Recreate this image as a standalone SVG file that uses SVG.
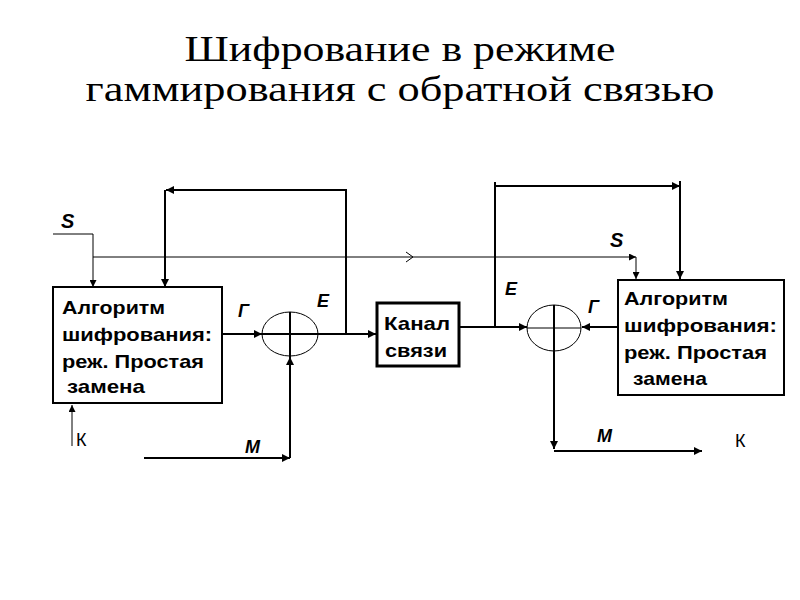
<svg xmlns="http://www.w3.org/2000/svg" width="800" height="600" viewBox="0 0 800 600">
<style>
.title{font-family:"Liberation Serif","Times New Roman",serif;font-size:36px;fill:#000;text-anchor:middle}
.box{fill:#fff;stroke:#000;stroke-width:2}
.box3{fill:#fff;stroke:#000;stroke-width:3}
.bt{font-family:"Liberation Sans",Arial,sans-serif;font-size:19px;font-weight:bold;fill:#000}
.lab{font-family:"Liberation Sans",Arial,sans-serif;font-size:18px;font-weight:bold;font-style:italic;fill:#000}
.s{font-family:"Liberation Sans",Arial,sans-serif;font-size:20px;font-weight:bold;font-style:italic;fill:#000}
.reg{font-family:"Liberation Sans",Arial,sans-serif;font-size:18px;fill:#000}
.thick{fill:none;stroke:#000;stroke-width:2}
.thin{fill:none;stroke:#000;stroke-width:1}
.circ{fill:none;stroke:#000;stroke-width:1}
</style>
<defs>
<marker id="ah" markerUnits="userSpaceOnUse" markerWidth="9" markerHeight="8" refX="8" refY="4" orient="auto">
<path d="M0,0 L8,4 L0,8 Z" fill="#000"/>
</marker>
<marker id="ahs" markerUnits="userSpaceOnUse" markerWidth="8" markerHeight="7" refX="7" refY="3.5" orient="auto">
<path d="M0,0 L7,3.5 L0,7 Z" fill="#000"/>
</marker>
</defs>

<text class="title" x="400" y="61" textLength="431" lengthAdjust="spacingAndGlyphs">Шифрование в режиме</text>
<text class="title" x="400" y="101" textLength="629" lengthAdjust="spacingAndGlyphs">гаммирования с обратной связью</text>

<g id="connectors">
<path class="thick" d="M346,334 V190 H166" marker-end="url(#ah)"/>
<path class="thick" d="M165,190 V287" marker-end="url(#ah)"/>
<path class="thin" d="M53,234 H93 V287" marker-end="url(#ahs)"/>
<path class="thin" d="M93,257 H636" marker-end="url(#ahs)"/>
<path class="thin" d="M636,257 V279" marker-end="url(#ahs)"/>
<path class="thin" d="M406,252 L413,257 L406,262"/>
<path class="thick" d="M222,334 H262" marker-end="url(#ah)"/>
<path class="thick" d="M318,334 H376" marker-end="url(#ah)"/>
<path class="thick" d="M144,458 H290" marker-end="url(#ah)"/>
<path class="thick" d="M290,458 V357" marker-end="url(#ah)"/>
<path class="thin" d="M72,446 V405" marker-end="url(#ahs)"/>
<path class="thick" d="M459,327 H527" marker-end="url(#ah)"/>
<path class="thick" d="M495,327 V182"/>
<path class="thick" d="M495,186 H680" marker-end="url(#ah)"/>
<path class="thick" d="M680,181 V279" marker-end="url(#ah)"/>
<path class="thick" d="M618,327 H582" marker-end="url(#ah)"/>
<path class="thick" d="M554,352 V449" marker-end="url(#ah)"/>
<path class="thick" d="M554,451 H702" marker-end="url(#ah)"/>
</g>

<g id="enc-left">
<rect class="box" x="53" y="287" width="169" height="116"/>
<text class="bt" x="62" y="314" textLength="103" lengthAdjust="spacingAndGlyphs">Алгоритм</text>
<text class="bt" x="62" y="341" textLength="150" lengthAdjust="spacingAndGlyphs">шифрования:</text>
<text class="bt" x="62" y="368" textLength="142" lengthAdjust="spacingAndGlyphs">реж. Простая</text>
<text class="bt" x="67" y="393" textLength="78" lengthAdjust="spacingAndGlyphs">замена</text>
</g>

<g id="xor-left">
<ellipse class="circ" cx="290" cy="334" rx="28" ry="22"/>
<line class="thick" x1="290" y1="312" x2="290" y2="357"/>
<line class="thick" x1="262" y1="334" x2="318" y2="334"/>
</g>

<g id="channel">
<rect class="box3" x="377" y="303" width="82" height="63"/>
<text class="bt" x="384" y="330" textLength="66" lengthAdjust="spacingAndGlyphs">Канал</text>
<text class="bt" x="385" y="357" textLength="62" lengthAdjust="spacingAndGlyphs">связи</text>
</g>

<g id="xor-right">
<ellipse class="circ" cx="554" cy="328" rx="27" ry="23"/>
<line class="thick" x1="554" y1="305" x2="554" y2="352"/>
<line class="thin" x1="527" y1="328" x2="581" y2="328"/>
</g>

<g id="enc-right">
<rect class="box" x="618" y="280" width="166" height="115"/>
<text class="bt" x="624" y="305" textLength="104" lengthAdjust="spacingAndGlyphs">Алгоритм</text>
<text class="bt" x="624" y="332" textLength="153" lengthAdjust="spacingAndGlyphs">шифрования:</text>
<text class="bt" x="624" y="359" textLength="143" lengthAdjust="spacingAndGlyphs">реж. Простая</text>
<text class="bt" x="633" y="385" textLength="74" lengthAdjust="spacingAndGlyphs">замена</text>
</g>

<g id="labels">
<text class="s" x="61" y="228">S</text>
<text class="s" x="610" y="247">S</text>
<text class="lab" x="238" y="317">Г</text>
<text class="lab" x="317" y="307">Е</text>
<text class="lab" x="505" y="295">Е</text>
<text class="lab" x="588" y="313">Г</text>
<text class="lab" x="245" y="453">М</text>
<text class="lab" x="597" y="442">М</text>
<text class="reg" x="76" y="446">К</text>
<text class="reg" x="735" y="447">К</text>
</g>
</svg>
